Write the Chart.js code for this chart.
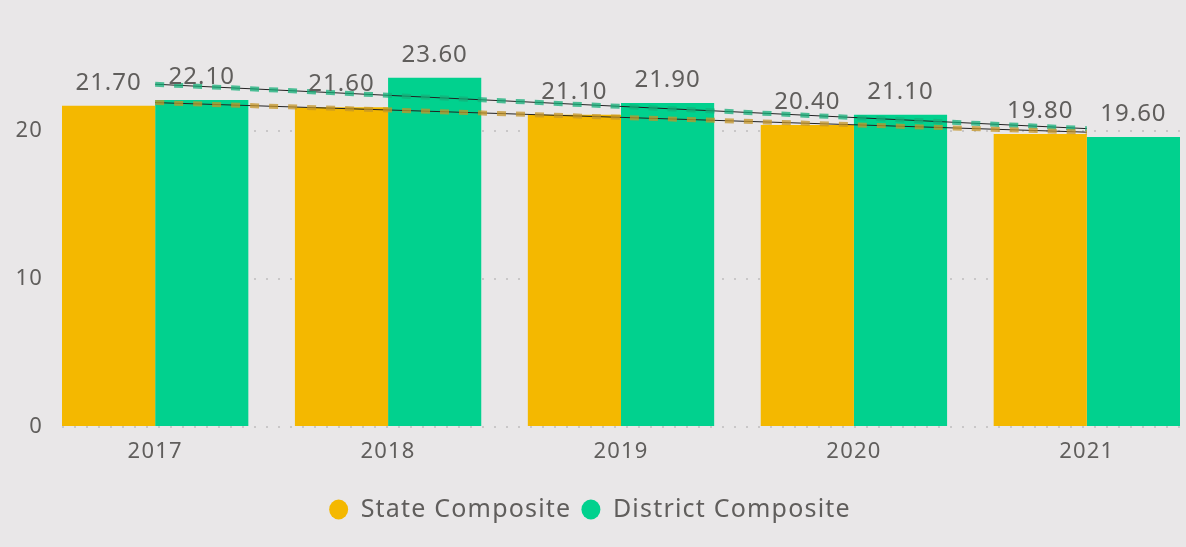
<!DOCTYPE html>
<html>
<head>
<meta charset="utf-8">
<script src="https://cdn.jsdelivr.net/npm/chart.js@4.4.1/dist/chart.umd.min.js"></script>
<style>
  html, body { margin: 0; padding: 0; background: #E9E7E8; }
  #wrap { width: 1186px; height: 547px; }
</style>
</head>
<body>
<div id="wrap"><canvas id="chart"></canvas></div>
<script>
const years = ["2017", "2018", "2019", "2020", "2021"];
const stateComposite = [21.7, 21.6, 21.1, 20.4, 19.8];
const districtComposite = [22.1, 23.6, 21.9, 21.1, 19.6];
// trend line ends (first year, last year)
const stateTrend = [21.92, 19.92];
const districtTrend = [23.16, 20.16];
const yTicks = [0, 10, 20];

const textColor = "#605E5C";
const fontFamily = "'Noto Sans', sans-serif";

function points(values) {
    return values.map((v, i) => ({ x: i, y: v }));
}
function trendPoints(ends) {
    return [{ x: 0, y: ends[0] }, { x: years.length - 1, y: ends[1] }];
}

// wider letters like the original, has to be set again after every canvas resize
const spacing = {
    id: "spacing",
    beforeUpdate(chart) { chart.ctx.letterSpacing = "1.2px"; },
    beforeDraw(chart) { chart.ctx.letterSpacing = "1.2px"; }
};

// value labels above each bar
const barLabels = {
    id: "barLabels",
    afterDatasetsDraw(chart) {
        const ctx = chart.ctx;
        ctx.save();
        ctx.font = "24px " + fontFamily;
        ctx.fillStyle = textColor;
        ctx.textAlign = "center";
        ctx.textBaseline = "alphabetic";
        ctx.letterSpacing = "1px";
        chart.data.datasets.forEach((ds, di) => {
            if (ds.type !== "bar") return;
            chart.getDatasetMeta(di).data.forEach((el, i) => {
                ctx.fillText(ds.data[i].y.toFixed(2), el.x, el.y - 16);
            });
        });
        ctx.restore();
    }
};

new Chart(document.getElementById("chart"), {
    data: {
        datasets: [
            { type: "bar", label: "State Composite", data: points(stateComposite), backgroundColor: "#F4B800", order: 2 },
            { type: "bar", label: "District Composite", data: points(districtComposite), backgroundColor: "#01D18E", order: 2 },
            { type: "line", label: "st", data: trendPoints(stateTrend), borderColor: "#222", borderWidth: 1, pointRadius: 0, order: 1 },
            { type: "line", label: "st2", data: trendPoints(stateTrend), borderColor: "rgba(196,150,40,0.75)", borderWidth: 5, borderDash: [9, 10], pointRadius: 0, order: 0 },
            { type: "line", label: "dt", data: trendPoints(districtTrend), borderColor: "#222", borderWidth: 1, pointRadius: 0, order: 1 },
            { type: "line", label: "dt2", data: trendPoints(districtTrend), borderColor: "rgba(20,175,120,0.75)", borderWidth: 5, borderDash: [9, 10], pointRadius: 0, order: 0 }
        ]
    },
    options: {
        responsive: true,
        maintainAspectRatio: false,
        animation: false,
        categoryPercentage: 0.8,
        barPercentage: 1.0,
        layout: { padding: { top: 57, right: 6, bottom: 15, left: 0 } },
        plugins: {
            tooltip: { enabled: false },
            legend: {
                position: "bottom",
                labels: {
                    filter: item => item.datasetIndex < 2,
                    usePointStyle: true,
                    pointStyle: "circle",
                    boxHeight: 14,
                    pointStyleWidth: 19,
                    padding: 10,
                    color: textColor,
                    font: { size: 25, family: fontFamily }
                }
            }
        },
        scales: {
            x: {
                type: "linear",
                offset: false,
                min: -0.4,
                max: 4.4,
                afterBuildTicks: axis => { axis.ticks = years.map((y, i) => ({ value: i })); },
                afterFit: axis => { axis.height = 60; },
                ticks: {
                    callback: v => years[v],
                    color: textColor,
                    font: { size: 22, family: fontFamily },
                    padding: 4,
                    maxRotation: 0
                },
                grid: { display: false },
                border: { display: false }
            },
            y: {
                min: 0,
                max: 25,
                afterBuildTicks: axis => { axis.ticks = yTicks.map(v => ({ value: v })); },
                afterFit: axis => { axis.width = 62; },
                ticks: {
                    color: textColor,
                    font: { size: 22, family: fontFamily },
                    padding: 19
                },
                grid: { color: "#C9C7C8", lineWidth: 2, drawTicks: false },
                border: { display: false, dash: [2, 10] }
            }
        }
    },
    plugins: [spacing, barLabels]
});
</script>
</body>
</html>
